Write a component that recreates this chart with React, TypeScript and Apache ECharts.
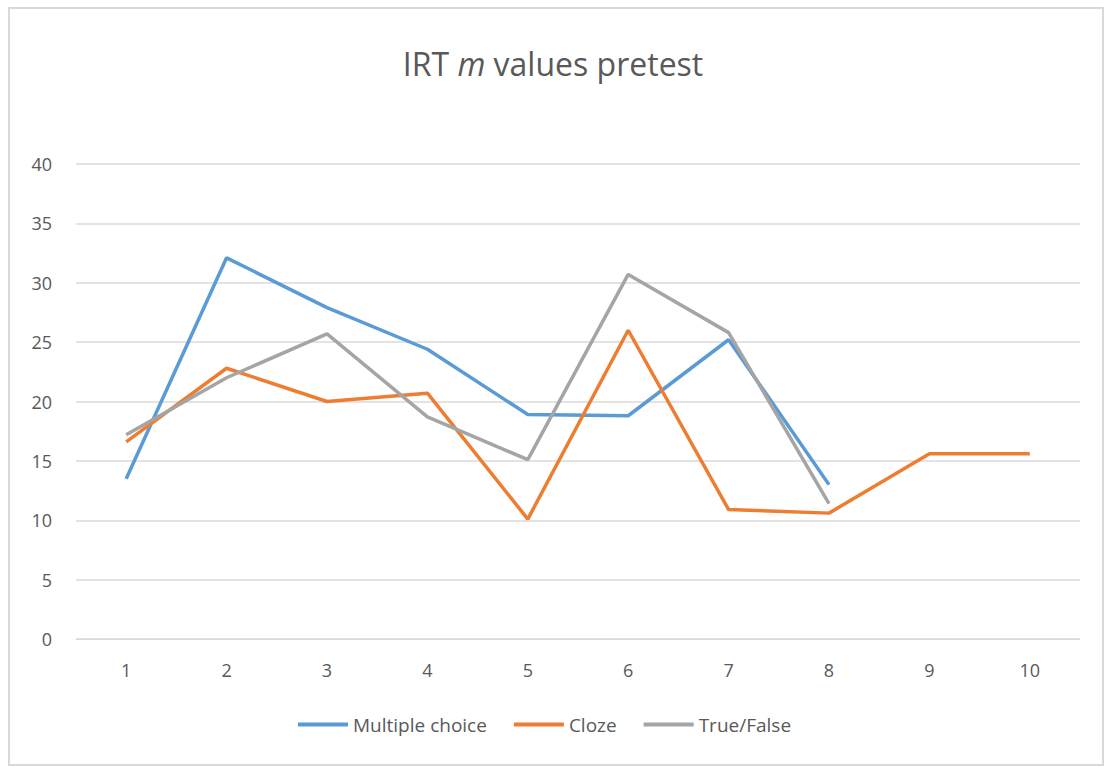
import React, { useEffect, useRef } from "react";
import * as echarts from "echarts";

const categories = ["1", "2", "3", "4", "5", "6", "7", "8", "9", "10"];
const multipleChoice = [13.5, 32.1, 27.9, 24.4, 18.9, 18.8, 25.2, 13.0, null, null];
const cloze = [16.6, 22.8, 20.0, 20.7, 10.1, 26.0, 10.9, 10.6, 15.6, 15.6];
const trueFalse = [17.2, 22.0, 25.7, 18.7, 15.1, 30.7, 25.8, 11.4, null, null];
const seriesNames = ["Multiple choice", "Cloze", "True/False"];
const colors = ["#5B9BD5", "#ED7D31", "#A5A5A5"];

const FONT = "'Open Sans', 'Noto Sans', sans-serif";

export default function App() {
  const ref = useRef<HTMLDivElement>(null);
  useEffect(() => {
    if (!ref.current) return;
    const chart = echarts.init(ref.current, null, { renderer: "svg" });
    const data = [multipleChoice, cloze, trueFalse];
    chart.setOption({
      animation: false,
      backgroundColor: "#ffffff",
      color: colors,
      title: {
        text: "IRT {i|m} values pretest",
        left: "center",
        top: 42,
        textStyle: {
          fontFamily: FONT,
          fontSize: 32,
          fontWeight: "normal",
          color: "#595959",
          rich: {
            i: { fontFamily: FONT, fontSize: 32, fontStyle: "italic", color: "#595959" },
          },
        },
      },
      graphic: [
        {
          type: "rect",
          shape: { x: 9, y: 8, width: 1094, height: 757 },
          style: { fill: "none", stroke: "#d9d9d9", lineWidth: 2 },
          silent: true,
        },
      ],
      legend: {
        bottom: 29,
        left: 293,
        itemWidth: 50,
        itemHeight: 4,
        itemGap: 27,
        icon: "rect",
        data: seriesNames,
        textStyle: { fontFamily: FONT, fontSize: 19, color: "#595959" },
      },
      grid: { left: 76, right: 26, top: 164, bottom: 129, containLabel: false },
      xAxis: {
        type: "category",
        data: categories,
        boundaryGap: true,
        axisLine: { show: true, lineStyle: { color: "#d9d9d9", width: 1 } },
        axisTick: { show: false },
        axisLabel: { fontFamily: FONT, fontSize: 18, color: "#595959", margin: 22 },
      },
      yAxis: {
        type: "value",
        min: 0,
        max: 40,
        interval: 5,
        axisLine: { show: false },
        axisTick: { show: false },
        axisLabel: { fontFamily: FONT, fontSize: 18, color: "#595959", margin: 24 },
        splitLine: { lineStyle: { color: "#e3e3e3", width: 2 } },
      },
      series: seriesNames.map((name, i) => ({
        name,
        type: "line",
        data: data[i],
        symbol: "none",
        lineStyle: { width: 3.5, color: colors[i] },
        itemStyle: { color: colors[i] },
        connectNulls: false,
      })),
    });
    return () => chart.dispose();
  }, []);
  return (
    <div
      ref={ref}
      style={{ position: "absolute", left: 0, top: 0, width: 1106, height: 768 }}
    />
  );
}
